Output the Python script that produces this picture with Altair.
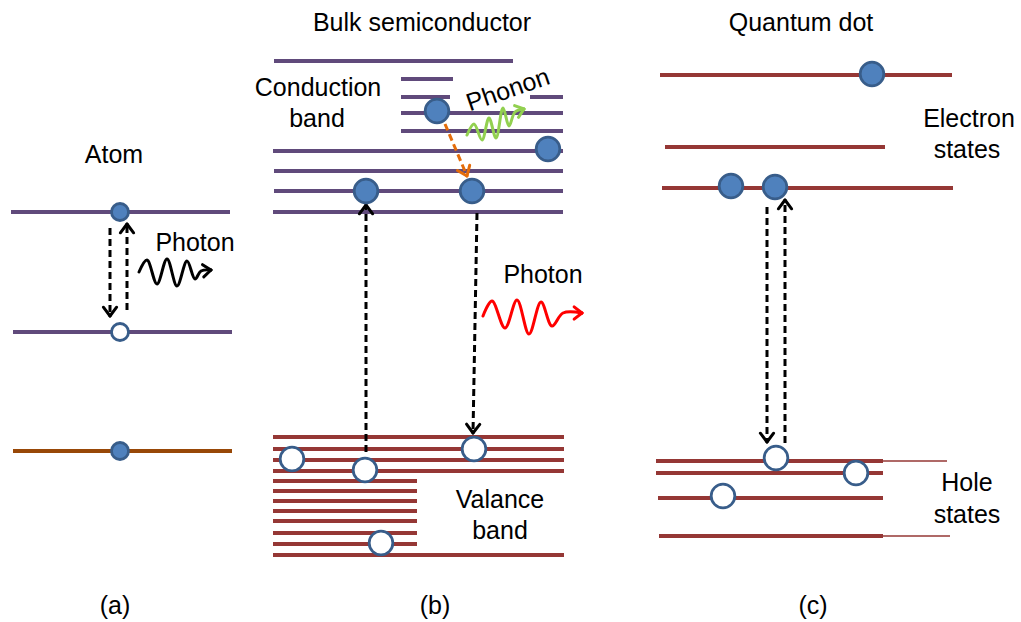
import math
import altair as alt
import pandas as pd

W, H = 1021, 622

# ---------------- energy levels (y, x-start, x-end, band kind, weight) -------------
atom_y = [212, 332, 451]
atom_x1 = [11, 13, 13]
atom_x2 = [230, 232, 232]
atom_kind = ["upper", "upper", "core"]

cb_y = [61, 79, 97, 97, 113, 131, 151, 171, 191, 212]
cb_x1 = [274, 401, 401, 530, 401, 401, 273, 274, 274, 273]
cb_x2 = [513, 453, 450, 563, 563, 563, 563, 563, 563, 563]

vb_y = [437, 449, 460, 471, 481, 491, 501, 511, 521, 533, 544, 555]
vb_x1 = [273] * 12
vb_x2 = [564, 564, 564, 564, 417, 417, 417, 417, 417, 417, 417, 564]

qd_e_y = [75, 147, 188]
qd_e_x1 = [660, 665, 662]
qd_e_x2 = [952, 885, 953]

qd_h_y = [461, 473, 498, 536, 461, 536]
qd_h_x1 = [656, 656, 658, 659, 883, 883]
qd_h_x2 = [883, 883, 883, 883, 947, 950]
qd_h_w = ["thick", "thick", "thick", "thick", "thin", "thin"]

# ---------------- carriers ---------------------------------------------------------
electrons_x = [120, 120, 437, 548, 366, 472, 872, 731, 775]
electrons_y = [212, 451, 111, 149, 191, 191, 74, 186, 187]
electrons_sz = ["small", "small", "big", "big", "big", "big", "big", "big", "big"]

holes_x = [120, 292, 365, 474, 381, 776, 856, 723]
holes_y = [332, 459, 470, 449, 543, 458, 473, 496]
holes_sz = ["small", "big", "big", "big", "big", "big", "big", "big"]

# ---------------- transitions (tail -> tip) ----------------------------------------
arrow_x0 = [110, 127, 366, 477, 767, 785, 445]
arrow_y0 = [228, 310, 452, 213, 207, 443, 124]
arrow_x1 = [110, 127, 366, 473, 767, 785, 467]
arrow_y1 = [316, 224, 205, 433, 442, 200, 176]
arrow_kind = ["radiative"] * 6 + ["relax"]

# ---------------- photon / phonon wiggles ------------------------------------------
wave_atom_x = [139, 147, 157, 167, 177, 187, 195, 201, 211]
wave_atom_y = [272, 260, 284, 259, 286, 261, 279, 271, 270]
wave_red_x = [483, 492, 505, 517, 529, 541, 552, 563, 582]
wave_red_y = [316, 301, 328, 300, 334, 302, 326, 313, 313]
wave_green_x = [467, 474, 482, 489, 496, 503, 509, 515, 524]
wave_green_y = [135, 124, 140, 118, 138, 108, 126, 112, 109]

# ---------------- labels ------------------------------------------------------------
label_text = ["Atom", "Photon", "Bulk semiconductor", "Quantum dot", "Conduction", "band",
              "Photon", "Valance", "band", "Electron", "states", "Hole", "states",
              "(a)", "(b)", "(c)"]
label_x = [114, 195, 422, 801, 318, 317, 543, 500, 500, 969, 967, 967, 967, 115, 435, 813]
label_y = [163, 251, 31, 31, 96, 127, 283, 508, 539, 127, 158, 491, 523, 614, 614, 614]

# ===================================================================================
seg_rows = []
for y, a, b, k in zip(atom_y, atom_x1, atom_x2, atom_kind):
    seg_rows.append(dict(x=a, x2=b, y=y, kind="cb" if k == "upper" else "core", w="thick"))
for y, a, b in zip(cb_y, cb_x1, cb_x2):
    seg_rows.append(dict(x=a, x2=b, y=y, kind="cb", w="thick"))
for y, a, b in zip(vb_y, vb_x1, vb_x2):
    seg_rows.append(dict(x=a, x2=b, y=y, kind="vb", w="thick"))
for y, a, b in zip(qd_e_y, qd_e_x1, qd_e_x2):
    seg_rows.append(dict(x=a, x2=b, y=y, kind="vb", w="thick"))
for y, a, b, w in zip(qd_h_y, qd_h_x1, qd_h_x2, qd_h_w):
    seg_rows.append(dict(x=a, x2=b, y=y, kind="vb", w=w))
seg_df = pd.DataFrame(seg_rows)

xs = alt.Scale(domain=[0, W], nice=False, zero=False)
ys = alt.Scale(domain=[0, H], nice=False, zero=False, reverse=True)

levels = alt.Chart(seg_df).mark_rule(strokeCap="butt").encode(
    x=alt.X("x:Q", scale=xs, axis=None),
    x2="x2:Q",
    y=alt.Y("y:Q", scale=ys, axis=None),
    color=alt.Color("kind:N", scale=alt.Scale(domain=["cb", "vb", "core"],
                                              range=["#604a7b", "#953735", "#984807"]), legend=None),
    strokeWidth=alt.StrokeWidth("w:N", scale=alt.Scale(domain=["thick", "thin"], range=[4, 1.5]),
                                legend=None),
)

arr_df = pd.DataFrame(dict(x=arrow_x0, y=arrow_y0, x2=arrow_x1, y2=arrow_y1, kind=arrow_kind))
arrow_color = alt.Scale(domain=["radiative", "relax", "photon", "phonon", "photon2"],
                        range=["#000000", "#e46c0a", "#000000", "#92d050", "#ff0000"])
shafts = alt.Chart(arr_df).mark_rule(strokeWidth=3, strokeDash=[7, 4]).encode(
    x=alt.X("x:Q", scale=xs, axis=None), y=alt.Y("y:Q", scale=ys, axis=None),
    x2="x2:Q", y2="y2:Q",
    color=alt.Color("kind:N", scale=arrow_color, legend=None),
)


def chevron(tail, tip, L, ang):
    dx, dy = tip[0] - tail[0], tip[1] - tail[1]
    n = math.hypot(dx, dy)
    bx, by = -dx / n, -dy / n
    out = []
    for s in (1, -1):
        c, sn = math.cos(ang), math.sin(ang) * s
        rx, ry = bx * c - by * sn, bx * sn + by * c
        out.append((tip[0], tip[1], tip[0] + L * rx, tip[1] + L * ry))
    return out


head_rows = []
for x0, y0, x1, y1, k in zip(arrow_x0, arrow_y0, arrow_x1, arrow_y1, arrow_kind):
    for a, b, c, d in chevron((x0, y0), (x1, y1), 11, math.radians(37)):
        head_rows.append(dict(x=a, y=b, x2=c, y2=d, kind=k))

waves = [("photon", wave_atom_x, wave_atom_y), ("photon2", wave_red_x, wave_red_y),
         ("phonon", wave_green_x, wave_green_y)]
wave_rows = []
for name, wx, wy in waves:
    for i, (a, b) in enumerate(zip(wx, wy)):
        wave_rows.append(dict(x=a, y=b, i=i, kind=name))
    for a, b, c, d in chevron((wx[-2], wy[-2]), (wx[-1], wy[-1]), 10, math.radians(38)):
        head_rows.append(dict(x=a, y=b, x2=c, y2=d, kind=name))

head_df = pd.DataFrame(head_rows)
heads = alt.Chart(head_df).mark_rule(strokeWidth=3, strokeCap="round").encode(
    x=alt.X("x:Q", scale=xs, axis=None), y=alt.Y("y:Q", scale=ys, axis=None),
    x2="x2:Q", y2="y2:Q",
    color=alt.Color("kind:N", scale=arrow_color, legend=None),
)

wave_df = pd.DataFrame(wave_rows)
wiggles = alt.Chart(wave_df).mark_line(interpolate="catmull-rom", strokeWidth=3,
                                       strokeCap="round").encode(
    x=alt.X("x:Q", scale=xs, axis=None), y=alt.Y("y:Q", scale=ys, axis=None),
    detail="kind:N", order="i:Q",
    color=alt.Color("kind:N", scale=arrow_color, legend=None),
)

car_rows = []
for x, y, s in zip(electrons_x, electrons_y, electrons_sz):
    car_rows.append(dict(x=x, y=y, state="electron", sz=s))
for x, y, s in zip(holes_x, holes_y, holes_sz):
    car_rows.append(dict(x=x, y=y, state="hole", sz=s))
car_df = pd.DataFrame(car_rows)
carriers = alt.Chart(car_df).mark_point(shape="circle", filled=True, opacity=1,
                                        stroke="#385d8a", strokeWidth=2.8).encode(
    x=alt.X("x:Q", scale=xs, axis=None), y=alt.Y("y:Q", scale=ys, axis=None),
    fill=alt.Fill("state:N", scale=alt.Scale(domain=["electron", "hole"],
                                             range=["#4f81bd", "#ffffff"]), legend=None),
    size=alt.Size("sz:N", scale=alt.Scale(domain=["small", "big"], range=[290, 560]), legend=None),
)

lab_df = pd.DataFrame(dict(t=label_text, x=label_x, y=label_y))
labels = alt.Chart(lab_df).mark_text(font="Liberation Sans", fontSize=25, align="center",
                                     baseline="alphabetic", color="#000000").encode(
    x=alt.X("x:Q", scale=xs, axis=None), y=alt.Y("y:Q", scale=ys, axis=None), text="t:N",
)

ph_df = pd.DataFrame(dict(t=["Phonon"], x=[508], y=[90]))
phonon_lab = alt.Chart(ph_df).mark_text(font="Liberation Sans", fontSize=25, align="center",
                                        baseline="middle", angle=341, color="#000000").encode(
    x=alt.X("x:Q", scale=xs, axis=None), y=alt.Y("y:Q", scale=ys, axis=None), text="t:N",
)

chart = alt.layer(levels, shafts, heads, wiggles, carriers, labels, phonon_lab).resolve_scale(
    color="independent"
).properties(width=W, height=H, padding=0, background="white").configure_view(stroke=None)

chart.save("out.html", embed_options={"renderer": "svg", "actions": False})
